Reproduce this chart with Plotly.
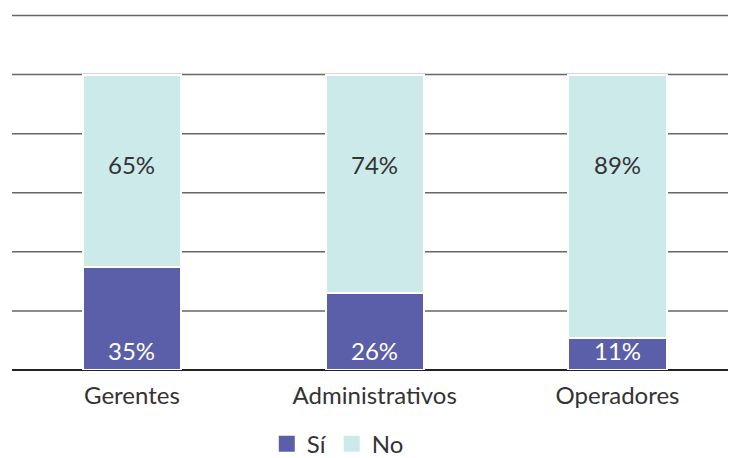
import plotly.graph_objects as go

categories = ["Gerentes", "Administrativos", "Operadores"]
si_values = [35, 26, 11]
no_values = [65, 74, 89]
series_names = ["Sí", "No"]
grid_values = [20, 40, 60, 80, 100, 120]

SI_COLOR = "#5b5ea8"
NO_COLOR = "#cdeaeb"
FONT = "Lato"
TXT = "#333333"
GRID = "#666666"

fig = go.Figure()
fig.add_trace(go.Bar(
    x=categories, y=si_values, name=series_names[0], showlegend=False,
    marker=dict(color=SI_COLOR, line=dict(color="white", width=2)),
    width=0.405, hoverinfo="skip",
))
fig.add_trace(go.Bar(
    x=categories, y=no_values, name=series_names[1], showlegend=False,
    marker=dict(color=NO_COLOR, line=dict(color="white", width=2)),
    width=0.405, hoverinfo="skip",
))
for name, col in zip(series_names, [SI_COLOR, NO_COLOR]):
    fig.add_trace(go.Scatter(
        x=[None], y=[None], mode="markers", name=name,
        marker=dict(symbol="square", size=18, color=col),
        hoverinfo="skip",
    ))

for c, s, n in zip(categories, si_values, no_values):
    fig.add_annotation(x=c, y=6.7, text=f"{s}%", showarrow=False,
                       font=dict(family=FONT, size=24, color="white"))
    fig.add_annotation(x=c, y=69.5, text=f"{n}%", showarrow=False,
                       font=dict(family=FONT, size=24, color=TXT))

# horizontal grid lines drawn below the bars
for g in grid_values:
    fig.add_shape(type="line", xref="paper", x0=0, x1=1, yref="y", y0=g, y1=g,
                  line=dict(color=GRID, width=1.5), layer="below")

fig.update_layout(
    barmode="stack",
    width=730, height=458,
    margin=dict(l=12, r=2, t=14, b=88, autoexpand=False),
    paper_bgcolor="white", plot_bgcolor="white",
    font=dict(family=FONT, size=24, color=TXT),
    legend=dict(orientation="h", x=0.455, xanchor="center",
                yref="container", y=0.03, yanchor="middle",
                font=dict(family=FONT, size=24, color=TXT),
                itemwidth=30, tracegroupgap=0, traceorder="normal"),
    showlegend=True,
)
fig.update_xaxes(range=[-0.494, 2.455], showgrid=False, showline=False,
                 ticks="outside", ticklen=4, tickcolor="rgba(0,0,0,0)",
                 tickfont=dict(family=FONT, size=24, color=TXT), automargin=False)
fig.update_yaxes(range=[0, 120.5], showgrid=False, showticklabels=False,
                 zeroline=True, zerolinecolor="#222222", zerolinewidth=2,
                 showline=False, automargin=False)

fig.write_html("out.html", config={"displayModeBar": False},
               post_script="document.body.style.margin='0';")
